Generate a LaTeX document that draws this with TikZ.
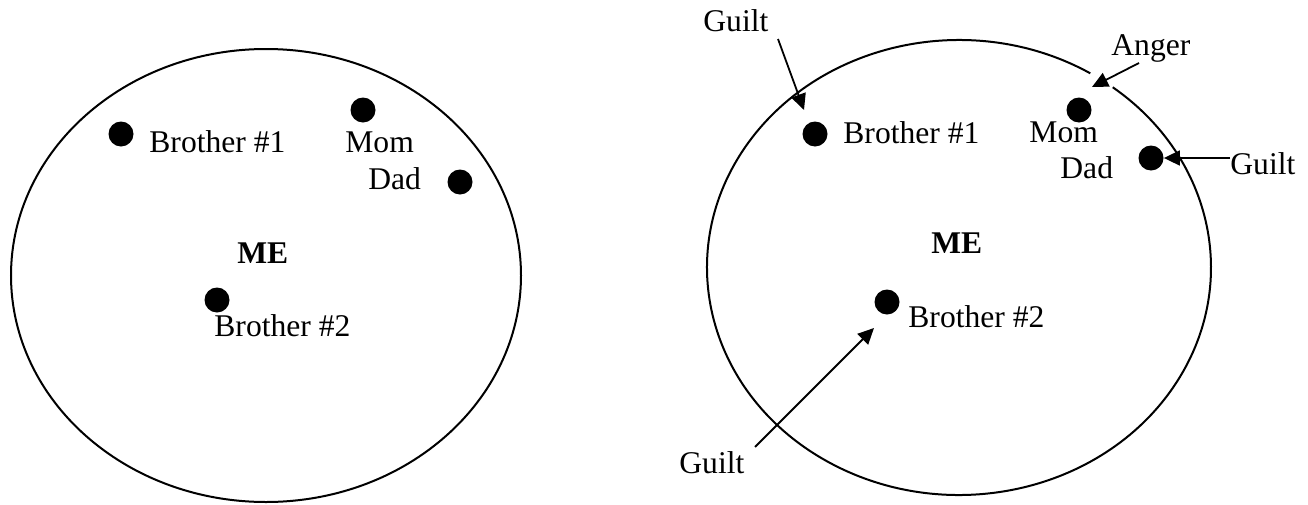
\documentclass[tikz,border=0pt]{standalone}
\usepackage{fontspec}
\setmainfont{Liberation Serif}
\usetikzlibrary{arrows.meta}
\begin{document}
\begin{tikzpicture}[x=0.5pt,y=-0.5pt,
  lbl/.style={anchor=base west,inner sep=0pt,font=\fontsize{15.8}{18}\selectfont},
  melbl/.style={anchor=base west,inner sep=0pt,font=\fontsize{15.8}{18}\selectfont\bfseries},
  dot/.style={circle,fill=black,inner sep=0pt,minimum size=12.5pt},
  ring/.style={line width=1pt},
  arr/.style={line width=0.9pt,-{Triangle[length=8pt,width=7.5pt]}}]
\useasboundingbox (0,0) rectangle (1308,504);
% ---------- left panel ----------
\draw[ring] (266,275.5) ellipse [x radius=127.5pt, y radius=113.25pt];
\node[dot] (lb1) at (121,134) {};
\node[dot] (lmom) at (363,110) {};
\node[dot] (ldad) at (460,182) {};
\node[dot] (lb2) at (217,300) {};
\node[lbl] (lb1t) at (149,152) {Brother \#1};
\node[lbl] (lmomt) at (345,152) {Mom};
\node[lbl] (ldadt) at (368,189) {Dad};
\node[melbl] (lme) at (237,263) {ME};
\node[lbl] (lb2t) at (214,336) {Brother \#2};
% ---------- right panel ----------
\draw[ring] ({959+252*cos(58.6)},{267.5-227.5*sin(58.6)})
  arc[start angle=58.6, end angle=412.4, x radius=126pt, y radius=113.75pt];
\node[dot] (rb1) at (815,134) {};
\node[dot] (rmom) at (1079,110) {};
\node[dot] (rdad) at (1151,158) {};
\node[dot] (rb2) at (887,302) {};
\node[lbl] (rb1t) at (843,143) {Brother \#1};
\node[lbl] (rmomt) at (1029,142) {Mom};
\node[lbl] (rdadt) at (1060,178) {Dad};
\node[melbl] (rme) at (931,253) {ME};
\node[lbl] (rb2t) at (908,327) {Brother \#2};
\node[lbl] (anger) at (1111,55) {Anger};
\node[lbl] (guilta) at (703,31) {Guilt};
\node[lbl] (guiltb) at (1230,174) {Guilt};
\node[lbl] (guiltc) at (679,473) {Guilt};
% arrow end points
\coordinate (gas) at (778,39);
\coordinate (gae) at (804,110);
\coordinate (ans) at (1139,63);
\coordinate (ane) at (1092,87);
\coordinate (gbs) at (1230,158);
\coordinate (gcs) at (755,447);
\coordinate (gce) at (874,328);
\draw[arr] (gas) -- (gae);
\draw[arr] (ans) -- (ane);
\draw[arr] (gbs) -- (rdad.east);
\draw[arr] (gcs) -- (gce);
\end{tikzpicture}
\end{document}
